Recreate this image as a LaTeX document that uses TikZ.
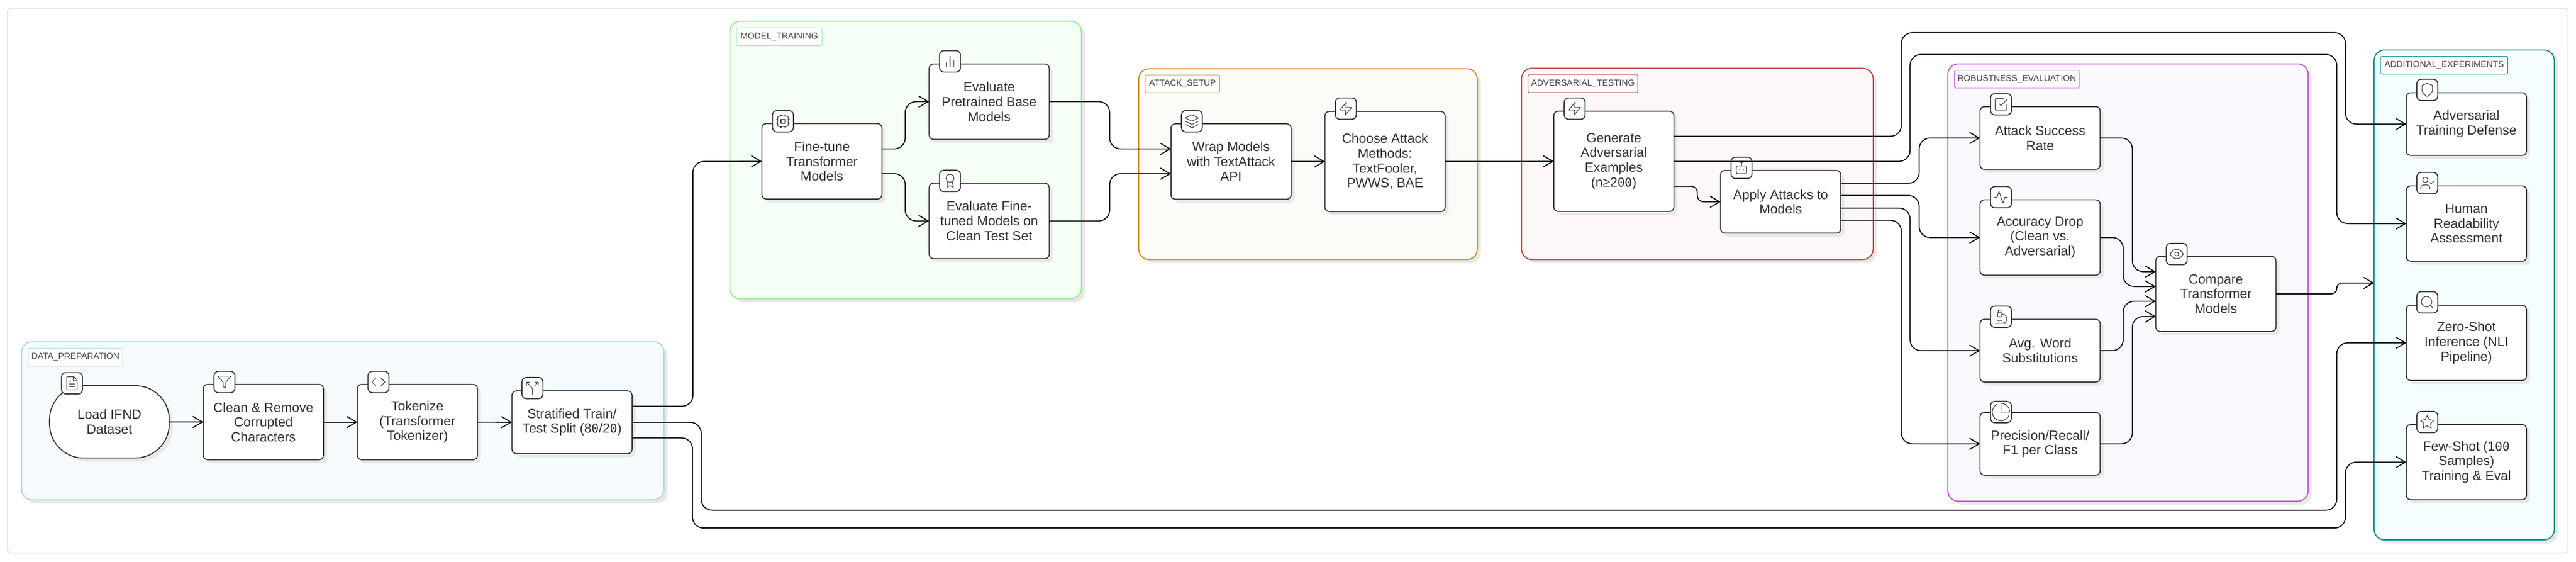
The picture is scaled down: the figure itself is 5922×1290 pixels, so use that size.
\documentclass[tikz,border=0pt]{standalone}
\usepackage{fontspec}
\usepackage{xcolor}
\usepackage{tikz}
\usetikzlibrary{arrows.meta,shadows}
\setmainfont{Liberation Sans}
\newfontfamily\zerofont[Scale=0.92]{DejaVu Sans Mono}
\newcommand{\szero}{{\zerofont 0}}
\definecolor{textgray}{RGB}{51,51,51}
\definecolor{labelgray}{RGB}{68,68,68}
\definecolor{shadowgray}{RGB}{232,232,232}
\definecolor{framegray}{RGB}{222,222,226}
\definecolor{dataline}{RGB}{173,216,230}
\definecolor{datafill}{RGB}{245,250,253}
\definecolor{modelline}{RGB}{144,238,144}
\definecolor{modelfill}{RGB}{245,255,245}
\definecolor{attackline}{RGB}{205,139,44}
\definecolor{attackfill}{RGB}{252,251,247}
\definecolor{advline}{RGB}{192,66,60}
\definecolor{advfill}{RGB}{253,247,247}
\definecolor{robustline}{RGB}{198,83,217}
\definecolor{robustfill}{RGB}{251,248,253}
\definecolor{extraline}{RGB}{0,139,139}
\definecolor{extrafill}{RGB}{245,254,255}
\tikzset{
  softshadow/.style={drop shadow={shadow xshift=0.08cm,shadow yshift=-0.08cm,fill=shadowgray,opacity=1}},
  cluster/.style={line width=0.7pt,rounded corners=0.24cm,inner sep=0pt,outer sep=0pt,softshadow},
  clusterlabel/.style={line width=0.3pt,fill=white,rounded corners=0.03cm,inner sep=0pt,outer sep=0pt,
    minimum height=0.41cm,text=labelgray,font=\fontsize{5.69pt}{6.5pt}\selectfont},
  stepbox/.style={draw=textgray,line width=0.65pt,fill=white,rounded corners=0.1cm,inner sep=0pt,outer sep=0pt,
    minimum width=2.76cm,minimum height=1.73cm,align=center,text=textgray,
    font=\fontsize{8.65pt}{9.67pt}\selectfont,softshadow},
  iconbox/.style={draw=textgray,line width=0.65pt,fill=white,rounded corners=0.1cm,inner sep=0pt,outer sep=0pt,
    minimum width=0.48cm,minimum height=0.49cm},
  flow/.style={draw=black,line width=0.65pt,rounded corners=0.25cm,-{Straight Barb[length=0.22cm,width=0.26cm]}},
  glyph/.style={draw=textgray,line width=0.4pt,x=0.015cm,y=-0.015cm,shift={(-12,-12)},line join=round,line cap=round},
  pics/filetext/.style={code={
    \draw[glyph] (15,2) -- (4,2) -- (4,22) -- (20,22) -- (20,7) -- cycle (14,2) -- (14,8) -- (20,8)
      (8,9) -- (10,9) (8,13) -- (16,13) (8,17) -- (16,17);}},
  pics/funnel/.style={code={\draw[glyph] (22,3) -- (2,3) -- (10,12.46) -- (10,19) -- (14,21) -- (14,12.46) -- cycle;}},
  pics/codemark/.style={code={\draw[glyph] (16,18) -- (22,12) -- (16,6) (8,6) -- (2,12) -- (8,18);}},
  pics/splitmark/.style={code={
    \draw[glyph] (16,3) -- (21,3) -- (21,8) (8,3) -- (3,3) -- (3,8) (21,3) -- (15,9)
      (3,3) -- (10.8,10.8) .. controls (11.6,11.6) and (12,12.6) .. (12,13.7) -- (12,22);}},
  pics/cpu/.style={code={
    \draw[glyph,rounded corners=0.03cm] (4,4) rectangle (20,20);
    \draw[glyph] (9,9) rectangle (15,15) (15,2) -- (15,4) (15,20) -- (15,22) (2,15) -- (4,15) (2,9) -- (4,9)
      (20,15) -- (22,15) (20,9) -- (22,9) (9,2) -- (9,4) (9,20) -- (9,22);}},
  pics/barchart/.style={code={\draw[glyph] (18,20) -- (18,10) (12,20) -- (12,4) (6,20) -- (6,14);}},
  pics/award/.style={code={\draw[glyph] (12,8) circle [radius=6] (15.48,12.89) -- (17,22) -- (12,19) -- (7,22) -- (8.52,12.89);}},
  pics/layers/.style={code={\draw[glyph] (12,2) -- (2,7) -- (12,12) -- (22,7) -- cycle (2,17) -- (12,22) -- (22,17) (2,12) -- (12,17) -- (22,12);}},
  pics/zap/.style={code={\draw[glyph] (13,2) -- (3,14) -- (12,14) -- (11,22) -- (21,10) -- (12,10) -- cycle;}},
  pics/bot/.style={code={
    \draw[glyph,rounded corners=0.03cm] (4,9) rectangle (20,21);
    \draw[glyph] (12,3) circle [radius=1.6] (12,4.6) -- (12,9) (9,14.5) -- (9,15) (15,14.5) -- (15,15);}},
  pics/checkbox/.style={code={
    \draw[glyph,rounded corners=0.03cm] (21,12) -- (21,21) -- (3,21) -- (3,3) -- (16,3);
    \draw[glyph] (9,11) -- (12,14) -- (22,4);}},
  pics/activity/.style={code={\draw[glyph] (22,12) -- (18,12) -- (15,21) -- (9,3) -- (6,12) -- (2,12);}},
  pics/microscope/.style={code={
    \draw[glyph] (6,18) -- (14,18) (3,22) -- (21,22) (14,22) arc (90:-90:7) -- (13,8) (9,14) -- (11,14)
      (7,6) -- (13,6) -- (13,12) -- (7,12) -- cycle (8,6) -- (8,2) -- (12,2) -- (12,6);}},
  pics/piechart/.style={code={
    \draw[draw=textgray,line width=0.4pt,x=0.02cm,y=-0.02cm,line join=round] (9.21,3.89) arc (22.9:246.4:10)
      (0,0) -- (0,-10) arc (-90:0:10) -- cycle;}},
  pics/eye/.style={code={
    \draw[glyph] (2,12) .. controls (5,6.5) and (8,5) .. (12,5) .. controls (16,5) and (19,6.5) .. (22,12)
      .. controls (19,17.5) and (16,19) .. (12,19) .. controls (8,19) and (5,17.5) .. (2,12) -- cycle
      (12,12) circle [radius=3];}},
  pics/shieldmark/.style={code={
    \draw[glyph] (12,22) .. controls (12,22) and (20,18) .. (20,12) -- (20,5) -- (12,2) -- (4,5) -- (4,12)
      .. controls (4,18) and (12,22) .. (12,22) -- cycle;}},
  pics/usercheck/.style={code={
    \draw[glyph] (16,21) -- (16,19) .. controls (16,16.8) and (14.2,15) .. (12,15) -- (6,15)
      .. controls (3.8,15) and (2,16.8) .. (2,19) -- (2,21) (9,7) circle [radius=4] (16,11) -- (18,13) -- (22,9);}},
  pics/searchmark/.style={code={\draw[glyph] (11,11) circle [radius=8] (21,21) -- (16.65,16.65);}},
  pics/starmark/.style={code={
    \draw[glyph] (12,2) -- (15.09,8.26) -- (22,9.27) -- (17,14.14) -- (18.18,21.02) -- (12,17.77)
      -- (5.82,21.02) -- (7,14.14) -- (2,9.27) -- (8.91,8.26) -- cycle;}}
}

\begin{document}
\begin{tikzpicture}[x=0.01cm,y=-0.01cm]
  \useasboundingbox (0,0) rectangle (5922,1290);
  \node[draw=framegray, line width=0.6pt, fill=white, rounded corners=0.08cm, inner sep=0pt, minimum width=58.83cm, minimum height=12.51cm] (frame) at (2960.5,644.5) {};

  % clusters
  \node[cluster, draw=dataline, fill=datafill, minimum width=14.76cm, minimum height=3.63cm] (dataprep) at (788,966.5) {};
  \node[cluster, draw=modelline, fill=modelfill, minimum width=8.08cm, minimum height=6.37cm] (modeltrain) at (2082,367.5) {};
  \node[cluster, draw=attackline, fill=attackfill, minimum width=7.78cm, minimum height=4.38cm] (attacksetup) at (3007,377) {};
  \node[cluster, draw=advline, fill=advfill, minimum width=8.08cm, minimum height=4.39cm] (advtest) at (3902,376.5) {};
  \node[cluster, draw=robustline, fill=robustfill, minimum width=8.28cm, minimum height=10.04cm] (robusteval) at (4892,649) {};
  \node[cluster, draw=extraline, fill=extrafill, minimum width=4.14cm, minimum height=11.25cm] (extraexp) at (5665,677.5) {};

  \node[clusterlabel, draw=dataline, minimum width=2.17cm] (datalabel) at (173.5,820.5) {DATA\_PREPARATION};
  \node[clusterlabel, draw=modelline, minimum width=1.97cm] (modellabel) at (1791.5,84.5) {MODEL\_TRAINING};
  \node[clusterlabel, draw=attackline, minimum width=1.71cm] (attacklabel) at (2718.5,192.5) {ATTACK\_SETUP};
  \node[clusterlabel, draw=advline, minimum width=2.52cm] (advlabel) at (3639,192) {ADVERSARIAL\_TESTING};
  \node[clusterlabel, draw=robustline, minimum width=2.87cm] (robustlabel) at (4636.5,182) {ROBUSTNESS\_EVALUATION};
  \node[clusterlabel, draw=extraline, minimum width=2.92cm] (extralabel) at (5619,150) {ADDITIONAL\_EXPERIMENTS};

  % steps
  \node[stepbox, rounded corners=0.78cm, minimum width=2.75cm, minimum height=1.66cm] (load) at (251.5,969) {Load IFND\\Dataset};
  \node[stepbox] (clean) at (605.5,969.5) {Clean \& Remove\\Corrupted\\Characters};
  \node[stepbox] (tokenize) at (959.5,969.5) {Tokenize\\(Transformer\\Tokenizer)};
  \node[stepbox, minimum height=1.44cm] (strat) at (1315,970) {Stratified Train/\\Test Split (8\szero/2\szero)};
  \node[stepbox] (finetune) at (1889.5,370.5) {Fine-tune\\Transformer\\Models};
  \node[stepbox] (evalbase) at (2274,233.5) {Evaluate\\Pretrained Base\\Models};
  \node[stepbox] (evalfine) at (2274,507.5) {Evaluate Fine-\\tuned Models on\\Clean Test Set};
  \node[stepbox] (wrap) at (2830,371) {Wrap Models\\with TextAttack\\API};
  \node[stepbox, minimum height=2.3cm] (choose) at (3184,371) {Choose Attack\\Methods:\\TextFooler,\\PWWS, BAE};
  \node[stepbox, minimum height=2.3cm] (generate) at (3710,370.5) {Generate\\Adversarial\\Examples\\(n≥2\szero\szero)};
  \node[stepbox, minimum height=1.44cm] (apply) at (4093.5,463.5) {Apply Attacks to\\Models};
  \node[stepbox, minimum height=1.44cm] (success) at (4690,317) {Attack Success\\Rate};
  \node[stepbox] (accuracy) at (4690,545.5) {Accuracy Drop\\(Clean vs.\\Adversarial)};
  \node[stepbox, minimum height=1.44cm] (avgword) at (4690,805.5) {Avg. Word\\Substitutions};
  \node[stepbox, minimum height=1.44cm] (precision) at (4690,1019.5) {Precision/Recall/\\F1 per Class};
  \node[stepbox] (compare) at (5094,675) {Compare\\Transformer\\Models};
  \node[stepbox, minimum height=1.44cm] (defense) at (5670,285) {Adversarial\\Training Defense};
  \node[stepbox] (human) at (5670,513.5) {Human\\Readability\\Assessment};
  \node[stepbox] (zeroshot) at (5670,787.5) {Zero-Shot\\Inference (NLI\\Pipeline)};
  \node[stepbox] (fewshot) at (5670,1061.5) {Few-Shot (1\szero\szero\\Samples)\\Training \& Eval};

  % icons
  \node[iconbox] (iconload) at (165.5,880.5) {};
  \node[iconbox] (iconclean) at (516,877.5) {};
  \node[iconbox] (icontoken) at (870,877.5) {};
  \node[iconbox] (iconstrat) at (1224,891.5) {};
  \node[iconbox] (iconfine) at (1800,278.5) {};
  \node[iconbox] (iconbase) at (2184,141) {};
  \node[iconbox] (iconevalfine) at (2184,415.5) {};
  \node[iconbox] (iconwrap) at (2740,278.5) {};
  \node[iconbox] (iconchoose) at (3094,249.5) {};
  \node[iconbox] (icongen) at (3620,249.5) {};
  \node[iconbox] (iconapply) at (4003.5,385.5) {};
  \node[iconbox] (iconsuccess) at (4600,239.5) {};
  \node[iconbox] (iconacc) at (4600,453) {};
  \node[iconbox] (iconavg) at (4600,727.5) {};
  \node[iconbox] (iconprec) at (4600,946.5) {};
  \node[iconbox] (iconcompare) at (5004,583.5) {};
  \node[iconbox] (icondefense) at (5580,206.5) {};
  \node[iconbox] (iconhuman) at (5580,420.5) {};
  \node[iconbox] (iconzero) at (5580,694.5) {};
  \node[iconbox] (iconfew) at (5580,969.5) {};

  \pic at (iconload) {filetext};
  \pic at (iconclean) {funnel};
  \pic at (icontoken) {codemark};
  \pic at (iconstrat) {splitmark};
  \pic at (iconfine) {cpu};
  \pic at (iconbase) {barchart};
  \pic at (iconevalfine) {award};
  \pic at (iconwrap) {layers};
  \pic at (iconchoose) {zap};
  \pic at (icongen) {zap};
  \pic at (iconapply) {bot};
  \pic at (iconsuccess) {checkbox};
  \pic at (iconacc) {activity};
  \pic at (iconavg) {microscope};
  \pic at (iconprec) {piechart};
  \pic at (iconcompare) {eye};
  \pic at (icondefense) {shieldmark};
  \pic at (iconhuman) {usercheck};
  \pic at (iconzero) {searchmark};
  \pic at (iconfew) {starmark};

  % connectors
  \draw[flow] (load) -- (clean);
  \draw[flow] (clean) -- (tokenize);
  \draw[flow] (tokenize) -- (strat);
  \draw[flow] (strat.east |- 0,933) -- (1593,933) -- (1593,371) -- (finetune.west);
  \draw[flow] (strat.east) -- (1612,970) -- (1612,1172) -- (5372,1172) -- (5372,787.5) -- (zeroshot.west);
  \draw[flow] (strat.east |- 0,1006) -- (1592,1006) -- (1592,1213) -- (5392,1213) -- (5392,1061.5) -- (fewshot.west);
  \draw[flow] (finetune.east |- 0,342) -- (2081,342) -- (2081,233.5) -- (evalbase.west);
  \draw[flow] (finetune.east |- 0,399) -- (2081,399) -- (2081,507.5) -- (evalfine.west);
  \draw[flow] (evalbase.east) -- (2551,233.5) -- (2551,342) -- (wrap.west |- 0,342);
  \draw[flow] (evalfine.east) -- (2551,507.5) -- (2551,399) -- (wrap.west |- 0,399);
  \draw[flow] (wrap) -- (choose);
  \draw[flow] (choose) -- (generate);
  \draw[flow] (generate.east |- 0,313) -- (4371,313) -- (4371,75) -- (5392,75) -- (5392,285) -- (defense.west);
  \draw[flow] (generate.east) -- (4391,370.5) -- (4391,125) -- (5372,125) -- (5372,513.5) -- (human.west);
  \draw[flow, rounded corners=0.14cm] (generate.east |- 0,428) -- (3902,428) -- (3902,463.5) -- (apply.west);
  \draw[flow] (apply.east |- 0,421) -- (4412,421) -- (4412,317) -- (success.west);
  \draw[flow] (apply.east |- 0,449) -- (4412,449) -- (4412,545.5) -- (accuracy.west);
  \draw[flow] (apply.east |- 0,478) -- (4391,478) -- (4391,805.5) -- (avgword.west);
  \draw[flow] (apply.east |- 0,506) -- (4371,506) -- (4371,1019.5) -- (precision.west);
  \draw[flow] (success.east) -- (4902,317) -- (4902,624) -- (compare.west |- 0,624);
  \draw[flow] (accuracy.east) -- (4881,545.5) -- (4881,658) -- (compare.west |- 0,658);
  \draw[flow] (avgword.east) -- (4881,805.5) -- (4881,692) -- (compare.west |- 0,692);
  \draw[flow] (precision.east) -- (4902,1019.5) -- (4902,727) -- (compare.west |- 0,727);
  \draw[flow, rounded corners=0.12cm] (compare.east) -- (5372,675) -- (5372,650) -- (extraexp.west |- 0,650);
\end{tikzpicture}
\end{document}
